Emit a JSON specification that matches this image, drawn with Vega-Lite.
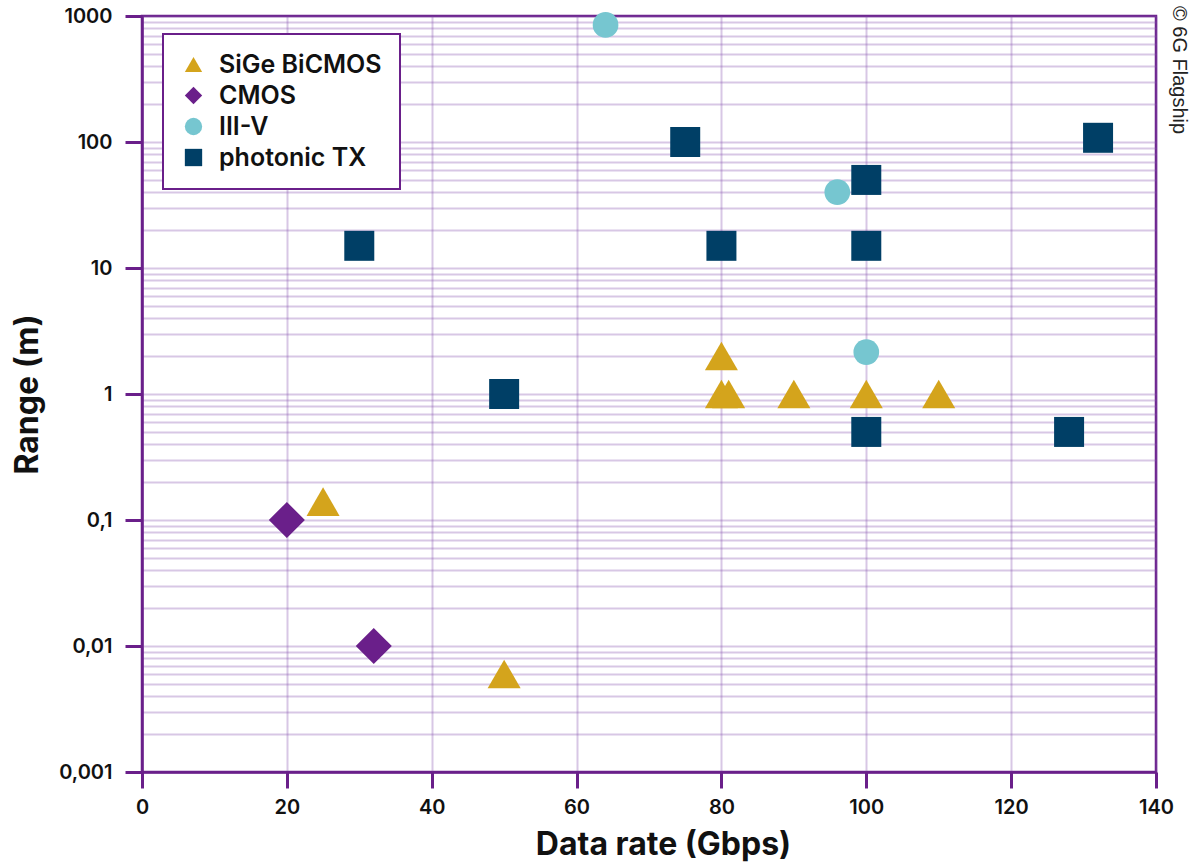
{
  "$schema": "https://vega.github.io/schema/vega-lite/v6.json",
  "width": 1014,
  "height": 756,
  "autosize": {"type": "none"},
  "padding": {"left": 142, "top": 16, "right": 34, "bottom": 96},
  "background": "white",
  "title": {
    "text": "© 6G Flagship",
    "orient": "right",
    "anchor": "start",
    "font": "Liberation Sans",
    "fontSize": 20,
    "fontWeight": "normal",
    "color": "#222",
    "offset": -8,
    "dy": -4
  },
  "data": {
    "values": [
      {"tech": "SiGe BiCMOS", "rate": 25, "range": 0.14},
      {"tech": "SiGe BiCMOS", "rate": 50, "range": 0.006},
      {"tech": "SiGe BiCMOS", "rate": 80, "range": 2},
      {"tech": "SiGe BiCMOS", "rate": 80, "range": 1},
      {"tech": "SiGe BiCMOS", "rate": 81, "range": 1},
      {"tech": "SiGe BiCMOS", "rate": 90, "range": 1},
      {"tech": "SiGe BiCMOS", "rate": 100, "range": 1},
      {"tech": "SiGe BiCMOS", "rate": 110, "range": 1},
      {"tech": "CMOS", "rate": 20, "range": 0.1},
      {"tech": "CMOS", "rate": 32, "range": 0.01},
      {"tech": "III-V", "rate": 64, "range": 850},
      {"tech": "III-V", "rate": 96, "range": 40},
      {"tech": "III-V", "rate": 100, "range": 2.15},
      {"tech": "photonic TX", "rate": 30, "range": 15},
      {"tech": "photonic TX", "rate": 50, "range": 1},
      {"tech": "photonic TX", "rate": 75, "range": 100},
      {"tech": "photonic TX", "rate": 80, "range": 15},
      {"tech": "photonic TX", "rate": 100, "range": 50},
      {"tech": "photonic TX", "rate": 100, "range": 15},
      {"tech": "photonic TX", "rate": 100, "range": 0.5},
      {"tech": "photonic TX", "rate": 128, "range": 0.5},
      {"tech": "photonic TX", "rate": 132, "range": 108}
    ]
  },
  "encoding": {
    "x": {
      "field": "rate",
      "type": "quantitative",
      "scale": {"domain": [0, 140], "nice": false},
      "axis": {
        "title": "Data rate (Gbps)",
        "values": [0, 20, 40, 60, 80, 100, 120, 140],
        "labelFlush": false,
        "tickSize": 16,
        "labelPadding": 9,
        "titlePadding": 12,
        "titleX": 521
      }
    },
    "y": {
      "field": "range",
      "type": "quantitative",
      "scale": {"type": "log", "domain": [0.001, 1000], "nice": false},
      "axis": {
        "title": "Range (m)",
        "values": [0.001,0.002,0.003,0.004,0.005,0.006,0.007,0.008,0.009,0.01,0.02,0.03,0.04,0.05,0.06,0.07,0.08,0.09,0.1,0.2,0.3,0.4,0.5,0.6,0.7,0.8,0.9,1,2,3,4,5,6,7,8,9,10,20,30,40,50,60,70,80,90,100,200,300,400,500,600,700,800,900,1000],
        "labelExpr": "indexof([0.001,0.01,0.1,1,10,100,1000], datum.value) >= 0 ? replace(toString(datum.value), '.', ',') : ''",
        "labelOverlap": false,
        "tickOpacity": {"condition": {"test": "indexof([0.001,0.01,0.1,1,10,100,1000], datum.value) >= 0", "value": 1}, "value": 0},
        "tickSize": 17,
        "labelPadding": 13,
        "titlePadding": 14
      }
    },
    "shape": {
      "field": "tech",
      "type": "nominal",
      "scale": {
        "domain": ["SiGe BiCMOS", "CMOS", "III-V", "photonic TX"],
        "range": ["triangle-up", "diamond", "circle", "square"]
      },
      "legend": {
        "title": null,
        "orient": "none",
        "legendX": 21,
        "legendY": 18,
        "padding": 18,
        "symbolSize": 300,
        "labelFontSize": 25,
        "labelFont": "Inter",
        "labelFontWeight": 600,
        "labelColor": "#111",
        "labelLimit": 400,
        "rowPadding": 5,
        "labelOffset": 13,
        "strokeColor": "#6a1f8a",
        "fillColor": "white",
        "symbolStrokeWidth": 0
      }
    },
    "color": {
      "field": "tech",
      "type": "nominal",
      "scale": {
        "domain": ["SiGe BiCMOS", "CMOS", "III-V", "photonic TX"],
        "range": ["#d4a41c", "#6a1f8a", "#76c6d0", "#003f66"]
      },
      "legend": {
        "title": null,
        "orient": "none",
        "legendX": 21,
        "legendY": 18,
        "padding": 18,
        "symbolSize": 300,
        "labelFontSize": 25,
        "labelFont": "Inter",
        "labelFontWeight": 600,
        "labelColor": "#111",
        "labelLimit": 400,
        "rowPadding": 5,
        "labelOffset": 13,
        "strokeColor": "#6a1f8a",
        "fillColor": "white",
        "symbolStrokeWidth": 0
      }
    }
  },
  "layer": [
    {
      "transform": [{"filter": "datum.tech === 'SiGe BiCMOS'"}],
      "mark": {"type": "point", "filled": true, "opacity": 1, "size": 1090}
    },
    {
      "transform": [{"filter": "datum.tech === 'CMOS'"}],
      "mark": {"type": "point", "filled": true, "opacity": 1, "size": 1300}
    },
    {
      "transform": [{"filter": "datum.tech === 'III-V'"}],
      "mark": {"type": "point", "filled": true, "opacity": 1, "size": 660}
    },
    {
      "transform": [{"filter": "datum.tech === 'photonic TX'"}],
      "mark": {"type": "point", "filled": true, "opacity": 1, "size": 900}
    }
  ],
  "config": {
    "view": {"stroke": "#6a1f8a", "strokeWidth": 2.5},
    "legend": {"strokeWidth": 2},
    "axis": {
      "domainColor": "#6a1f8a",
      "domainWidth": 2.5,
      "tickColor": "#6a1f8a",
      "tickWidth": 3,
      "grid": true,
      "gridColor": "#8a55b0",
      "gridOpacity": 0.33,
      "gridWidth": 2,
      "labelFont": "Inter",
      "labelFontSize": 20,
      "labelFontWeight": 600,
      "labelColor": "#111",
      "titleFont": "Inter",
      "titleFontSize": 32,
      "titleFontWeight": 700,
      "titleColor": "#111"
    }
  }
}
